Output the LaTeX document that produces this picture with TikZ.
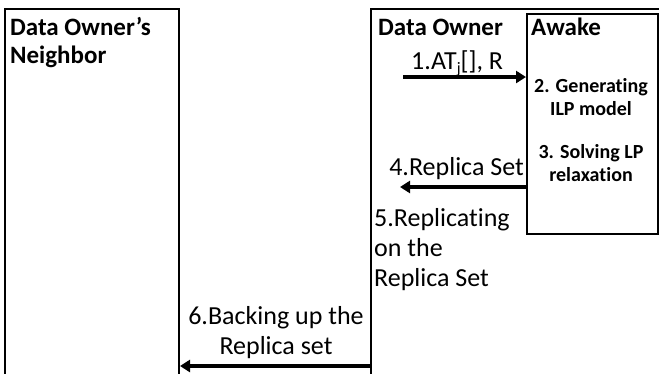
\documentclass[tikz,border=0pt]{standalone}
\usepackage{fontspec}
\setmainfont{Carlito}[Ligatures=NoCommon]
\usetikzlibrary{arrows.meta}

\tikzset{
  lane/.style={draw=black, line width=2pt, inner sep=0pt, anchor=north west},
  msg/.style={line width=3.5pt, -{Triangle[length=10pt,width=12pt]}},
  head/.style={font=\fontsize{25}{28}\selectfont\bfseries, inner sep=0pt},
  lbl/.style={font=\fontsize{26}{29}\selectfont, inner sep=0pt},
  work/.style={font=\fontsize{20}{23}\selectfont\bfseries, inner sep=0pt, align=center}
}

\begin{document}
\begin{tikzpicture}[x=1pt, y=-1pt]
  \useasboundingbox (0,0) rectangle (659,373);
  \fill[white] (0,0) rectangle (659,373);
  \clip (0,0) rectangle (659,373);

  % lifeline boxes
  \node[lane, minimum width=174pt, minimum height=390pt] (nbr) at (4,8) {};
  \node[lane, minimum width=320pt, minimum height=390pt] (owner) at (370,8) {};
  \node[lane, minimum width=131pt, minimum height=220pt] (awake) at (526,13) {};

  % headings
  \node[head, anchor=base west] (hnbr1) at (10,35) {Data Owner’s};
  \node[head, anchor=base west] (hnbr2) at (10,63) {Neighbor};
  \node[head, anchor=base west] (hown) at (378,35) {Data Owner};
  \node[head, anchor=base west] (hawk) at (531,35) {Awake};

  % messages
  \coordinate (m1s) at (403,77);
  \draw[msg] (m1s) -- (awake.west |- m1s);
  \node[lbl, anchor=base west] (l1) at (411,69)
    {1.AT\raisebox{-4pt}{\fontsize{16}{16}\selectfont j}[], R};

  \node[work] (w2) at (591,97) {2. Generating\\ILP model};
  \node[work] (w3) at (591,163) {3. Solving LP\\relaxation};

  \coordinate (m4e) at (400,187);
  \draw[msg] (awake.west |- m4e) -- (m4e);
  \node[lbl, anchor=base east] (l4) at (524,175) {4.Replica Set};

  \node[lbl, anchor=base west] (l5a) at (374,226) {5.Replicating};
  \node[lbl, anchor=base west] (l5b) at (374,256) {on the};
  \node[lbl, anchor=base west] (l5c) at (374,286) {Replica Set};

  \coordinate (m6) at (0,366);
  \draw[msg] (owner.west |- m6) -- (nbr.east |- m6);
  \node[lbl, anchor=base] (l6a) at (276,324) {6.Backing up the};
  \node[lbl, anchor=base] (l6b) at (276,354) {Replica set};
\end{tikzpicture}
\end{document}
